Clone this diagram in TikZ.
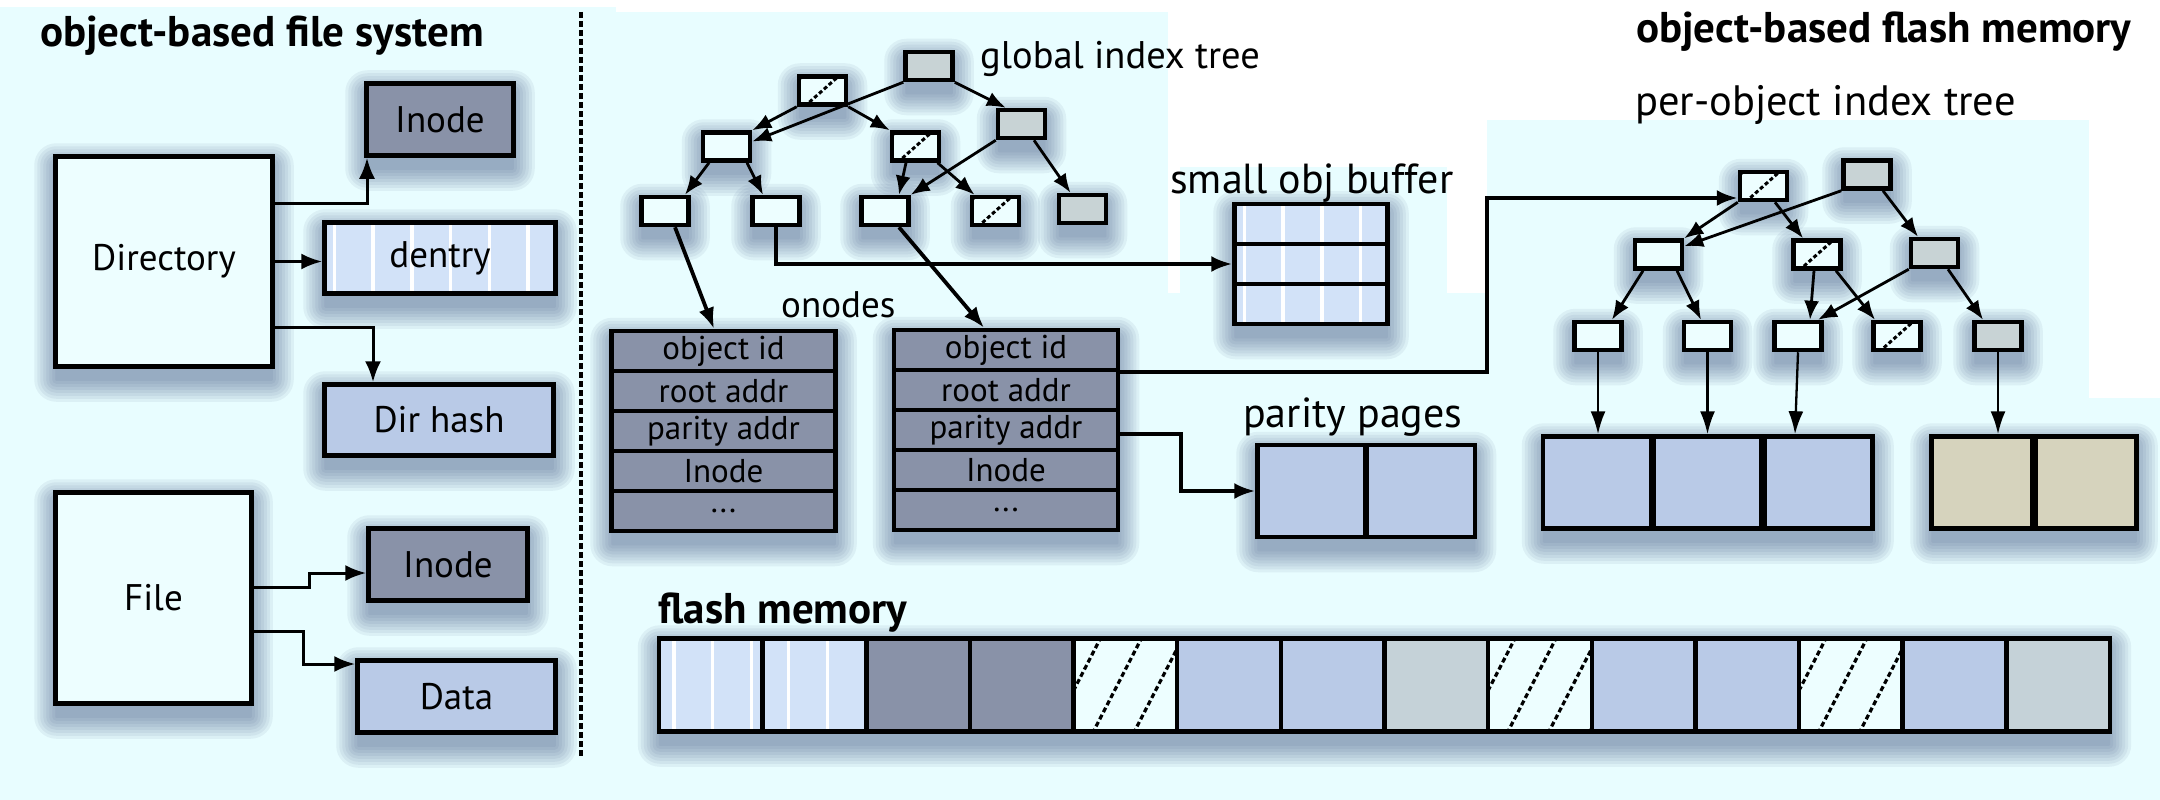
\documentclass[tikz,border=0pt]{standalone}
\usepackage{fontspec}
\setmainfont{PT Sans}
\usetikzlibrary{arrows.meta,calc}

\definecolor{bgcyan}{HTML}{E8FDFF}
\definecolor{boxwhite}{HTML}{EDFEFF}
\definecolor{slate}{HTML}{8992A8}
\definecolor{paleblue}{HTML}{D2E2F8}
\definecolor{steel}{HTML}{B9CAE7}
\definecolor{nodegray}{HTML}{C8D3D5}
\definecolor{cellgray}{HTML}{C5D2D8}
\definecolor{tanpage}{HTML}{D6D3BD}
\definecolor{shadowc}{HTML}{3A4C7C}

\pgfdeclarelayer{backdrop}
\pgfdeclarelayer{shade}
\pgfsetlayers{backdrop,shade,main}

% soft drop shadow under the rectangle spanned by two anchors
\newcommand\dropshade[2]{%
  \foreach \r in {1,4,...,22}{%
    \fill[shadowc, opacity=0.07, rounded corners={\r pt}]
      ([xshift={(3-\r)*1pt}, yshift={(-11-\r)*1pt}]#1) rectangle
      ([xshift={(\r-3)*1pt}, yshift={(\r-11)*1pt}]#2);
  }}

\newcommand\lblfont{\fontsize{37pt}{40pt}\selectfont}
\newcommand\rowfont{\fontsize{33pt}{36pt}\selectfont}
\newcommand\headfont{\bfseries\fontsize{43pt}{46pt}\selectfont}

\begin{document}
\begin{tikzpicture}[x=1pt,y=-1pt,
  sz/.style 2 args={minimum width=#1pt, minimum height=#2pt},
  base/.style={draw=black, line width=4.5pt, inner sep=0pt, rectangle},
  plainbox/.style={base, fill=boxwhite},
  darkbox/.style={base, fill=slate},
  steelbox/.style={base, fill=steel},
  stripes/.style={path picture={
    \foreach \k in {0,...,6}{
      \draw[white, line width=3.5pt]
        ([xshift={#1pt+\k*38.7pt}, yshift=-3pt]path picture bounding box.south west) --
        ([xshift={#1pt+\k*38.7pt}, yshift=3pt]path picture bounding box.north west);
    }}},
  stripes/.default=10,
  stripebox/.style={base, fill=paleblue, stripes},
  bighatch/.style={fill=boxwhite, path picture={
    \foreach \k in {-2,...,2}{
      \draw[black, line width=3.2pt, dash pattern=on 5pt off 3pt]
        ([xshift={\k*41pt-33pt}, yshift=-2pt]path picture bounding box.south) --
        ([xshift={\k*41pt+17pt}, yshift=2pt]path picture bounding box.north);
    }}},
  smallhatch/.style={fill=boxwhite, path picture={
    \foreach \k in {-1,0,1}{
      \draw[black, line width=3pt, dash pattern=on 4pt off 2.5pt]
        ([xshift={\k*36pt-18pt}, yshift=-2pt]path picture bounding box.south) --
        ([xshift={\k*36pt+18pt}, yshift=2pt]path picture bounding box.north);
    }}},
  tnode/.style={base, fill=boxwhite, sz={47}{28}},
  tgray/.style={tnode, fill=nodegray},
  thatch/.style={tnode, smallhatch},
  onrow/.style={base, fill=slate, sz={224}{40}, font=\rowfont},
  sbrow/.style={stripebox, sz={153}{40}},
  cell/.style={base, sz={103.64}{93}},
  page/.style={base, sz={108}{92}},
  lbl/.style={font=\lblfont},
  sect/.style={font=\fontsize{#1pt}{#1pt}\selectfont, inner sep=0pt, anchor=base west},
  head/.style={font=\headfont, inner sep=0pt, anchor=base west},
  arr/.style={line width=3pt, -{Latex[length=21pt,width=16pt]}},
  thickarr/.style={line width=3.8pt, -{Latex[length=21pt,width=16pt]}},
  tarr/.style={line width=2.8pt, -{Latex[length=19pt,width=15pt]}},
  darr/.style={line width=2.3pt, -{Latex[length=23pt,width=15pt]}}
]
\useasboundingbox (0,0) rectangle (2160,800);

% ---------- backdrop ----------
\begin{pgfonlayer}{backdrop}
  \fill[bgcyan] (0,0) rectangle (2160,800);
  \fill[white] (0,0) rectangle (2160,7);
  \fill[white] (616,0) rectangle (2160,12);
  \fill[white] (1168,0) rectangle (1487,293);
  \fill[bgcyan] (1180,167) rectangle (1447,293);
  \fill[white] (1487,0) rectangle (2160,120);
  \fill[white] (2089,120) rectangle (2160,398);
\end{pgfonlayer}

% ---------- object-based file system ----------
\node[head] (t1) at (40,47) {object-based file system};
\draw[line width=3.4pt, dash pattern=on 6pt off 3pt] (581,12) -- (581,757);

\node[plainbox, sz={217}{210}, lbl] (dir) at (164,261.5) {Directory};
\node[darkbox, sz={147}{72}, lbl] (inodeA) at (440,119.5) {Inode};
\node[stripebox, sz={231}{71}, lbl] (dentry) at (440,258) {dentry};
\node[steelbox, sz={229}{71}, lbl] (dirhash) at (439,420) {Dir hash};
\node[plainbox, sz={196}{211}, lbl] (file) at (153.5,598) {File};
\node[darkbox, sz={159}{72}, lbl] (inodeB) at (448,564.5) {Inode};
\node[steelbox, sz={198}{72}, lbl] (data) at (456.5,696.5) {Data};

\draw[arr] ([yshift=58.5pt]dir.east) -| ([xshift=-73pt]inodeA.south);
\draw[arr] (dir.east) -- (dir.east -| dentry.west);
\draw[arr] ([yshift=-65.5pt]dir.east) -| ([xshift=-66pt]dirhash.north);
\draw[arr] ([yshift=11pt]file.east) -- ++(56,0) |- ([yshift=-8.5pt]inodeB.west);
\draw[arr] ([yshift=-33pt]file.east) -- ++(50,0) |- ([yshift=32.5pt]data.west);

% ---------- global index tree ----------
\node[sect=38.5] (gl) at (980,68) {global index tree};
\node[tgray]  (gR)  at (929,66) {};
\node[thatch] (gH1) at (822.5,90.5) {};
\node[tgray]  (gG1) at (1021.5,124) {};
\node[tnode]  (gW2) at (726.5,146.5) {};
\node[thatch] (gH2) at (915.5,146.5) {};
\node[tnode]  (gA)  at (665,211) {};
\node[tnode]  (gB)  at (776,211) {};
\node[tnode]  (gC)  at (885,211) {};
\node[thatch] (gD)  at (995.5,211) {};
\node[tgray]  (gE)  at (1082.5,209) {};

\draw[tarr] (gR.south west) -- ([yshift=5pt]gW2.east);
\draw[tarr] (gR.south east) -- ([xshift=10pt]gG1.north west);
\draw[tarr] (gH1.south west) -- (gW2.north east);
\draw[tarr] (gH1.south east) -- (gH2.north west);
\draw[tarr] (gG1.south west) -- (gC.north east);
\draw[tarr] ([xshift=12.5pt]gG1.south) -- ([xshift=-12pt]gE.north);
\draw[tarr] ([xshift=-17.5pt]gW2.south) -- ([xshift=20pt]gA.north);
\draw[tarr] ([xshift=20.5pt]gW2.south) -- ([xshift=-13pt]gB.north);
\draw[tarr] ([xshift=-9.5pt]gH2.south) -- ([xshift=14pt]gC.north);
\draw[tarr] ([xshift=22pt]gH2.south) -- ([xshift=-21pt]gD.north);

% ---------- onodes ----------
\node[sect=37] (onl) at (781,317) {onodes};
\node[onrow] (onA1) at (723.5,351) {object id};
\node[onrow] (onA2) at (723.5,391) {root addr};
\node[onrow] (onA3) at (723.5,431) {parity addr};
\node[onrow] (onA4) at (723.5,471) {Inode};
\node[onrow] (onA5) at (723.5,511) {...};
\node[onrow] (onB1) at (1006,350) {object id};
\node[onrow] (onB2) at (1006,390) {root addr};
\node[onrow] (onB3) at (1006,430) {parity addr};
\node[onrow] (onB4) at (1006,470) {Inode};
\node[onrow] (onB5) at (1006,510) {...};

\draw[thickarr] ([xshift=10pt]gA.south) -- ([xshift=-9.5pt]onA1.north);
\draw[thickarr] ([xshift=14pt]gC.south) -- ([xshift=-22pt]onB1.north);

% ---------- small object buffer ----------
\node[sect=42] (sbl) at (1170,193) {small obj buffer};
\node[sbrow] (sb1) at (1311,224) {};
\node[sbrow] (sb2) at (1311,264) {};
\node[sbrow] (sb3) at (1311,304) {};
\draw[thickarr] (gB.south) |- (sb2.west);

% ---------- parity pages ----------
\node[sect=42] (ppl) at (1243,427) {parity pages};
\node[steelbox, page] (pA) at (1311.5,491) {};
\node[steelbox, page] (pB) at (1421,491) {};
\draw[thickarr] ([yshift=-4pt]onB3.east) -- ++(61,0) |- (pA.west);

% ---------- object-based flash memory ----------
\node[head] (t2) at (1636,43) {object-based flash memory};
\node[sect=42.5] (pol) at (1635,115) {per-object index tree};
\node[thatch] (pH1) at (1763.5,186) {};
\node[tgray]  (pR)  at (1867,174.5) {};
\node[tnode]  (pW2) at (1658.5,254.5) {};
\node[thatch] (pH2) at (1817,254.5) {};
\node[tgray]  (pG2) at (1934.5,253) {};
\node[tnode]  (pA3) at (1598,336) {};
\node[tnode]  (pB3) at (1707.5,336) {};
\node[tnode]  (pC3) at (1798,336) {};
\node[thatch] (pD3) at (1897,336) {};
\node[tgray]  (pE3) at (1998,336) {};

\draw[thickarr] (onB1.south east) -- ++(367,0) |- ([yshift=-12pt]pH1.west);

\draw[tarr] (pR.south west) -- ([yshift=-8pt]pW2.north east);
\draw[tarr] (pH1.south west) -- (pW2.north east);
\draw[tarr] ([xshift=11.5pt]pH1.south) -- ([xshift=-14pt]pH2.north);
\draw[tarr] ([xshift=16pt]pR.south) -- ([xshift=-16.5pt]pG2.north);
\draw[tarr] ([xshift=-15.5pt]pW2.south) -- ([xshift=14pt]pA3.north);
\draw[tarr] ([xshift=18.5pt]pW2.south) -- ([xshift=-6.5pt]pB3.north);
\draw[tarr] ([xshift=-3pt]pH2.south) -- ([xshift=12pt]pC3.north);
\draw[tarr] ([xshift=19pt]pH2.south) -- ([xshift=-22pt]pD3.north);
\draw[tarr] (pG2.south west) -- ([xshift=20pt]pC3.north);
\draw[tarr] ([xshift=13.5pt]pG2.south) -- ([xshift=-15pt]pE3.north);

\node[steelbox, page] (d1) at (1597,482.5) {};
\node[steelbox, page] (d2) at (1707.5,482.5) {};
\node[steelbox, page] (d3) at (1818.5,482.5) {};
\node[base, page, fill=tanpage, sz={101}{92}] (k1) at (1982,482.5) {};
\node[base, page, fill=tanpage, sz={101}{92}] (k2) at (2086,482.5) {};

\draw[darr] (pA3.south) -- (pA3.south |- d1.north);
\draw[darr] (pB3.south) -- (pB3.south |- d2.north);
\draw[darr] (pC3.south) -- ([xshift=-23.5pt]d3.north);
\draw[darr] (pE3.south) -- (pE3.south |- k1.north);

% ---------- flash memory ----------
\node[head] (fml) at (658,623) {flash memory};
\node[cell, base, fill=paleblue, stripes=15] (f1)  at (710.82,685) {};
\node[cell, base, fill=paleblue, stripes=26] (f2)  at (814.46,685) {};
\node[cell, fill=slate]     (f3)  at (918.10,685) {};
\node[cell, fill=slate]     (f4)  at (1021.74,685) {};
\node[cell, bighatch]       (f5)  at (1125.38,685) {};
\node[cell, fill=steel]     (f6)  at (1229.02,685) {};
\node[cell, fill=steel]     (f7)  at (1332.66,685) {};
\node[cell, fill=cellgray]  (f8)  at (1436.30,685) {};
\node[cell, bighatch]       (f9)  at (1539.94,685) {};
\node[cell, fill=steel]     (f10) at (1643.58,685) {};
\node[cell, fill=steel]     (f11) at (1747.22,685) {};
\node[cell, bighatch]       (f12) at (1850.86,685) {};
\node[cell, fill=steel]     (f13) at (1954.50,685) {};
\node[cell, fill=cellgray]  (f14) at (2058.14,685) {};

% ---------- shadows ----------
\begin{pgfonlayer}{shade}
  \dropshade{dir.south west}{dir.north east}
  \dropshade{file.south west}{file.north east}
  \dropshade{inodeA.south west}{inodeA.north east}
  \dropshade{dentry.south west}{dentry.north east}
  \dropshade{dirhash.south west}{dirhash.north east}
  \dropshade{inodeB.south west}{inodeB.north east}
  \dropshade{data.south west}{data.north east}
  \foreach \n in {gR,gH1,gG1,gW2,gH2,gA,gB,gC,gD,gE,pH1,pR,pW2,pH2,pG2,pA3,pB3,pC3,pD3,pE3}{
    \dropshade{\n.south west}{\n.north east}
  }
  \dropshade{onA5.south west}{onA1.north east}
  \dropshade{onB5.south west}{onB1.north east}
  \dropshade{sb3.south west}{sb1.north east}
  \dropshade{pA.south west}{pB.north east}
  \dropshade{d1.south west}{d3.north east}
  \dropshade{k1.south west}{k2.north east}
  \dropshade{f1.south west}{f14.north east}
\end{pgfonlayer}
\end{tikzpicture}
\end{document}
